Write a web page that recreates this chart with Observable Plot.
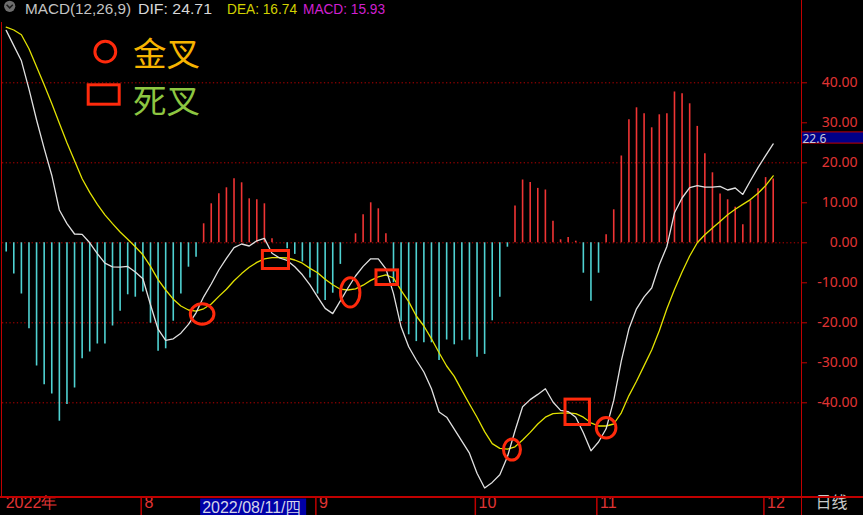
<!DOCTYPE html>
<html><head><meta charset="utf-8">
<script src="https://cdn.jsdelivr.net/npm/d3@7"></script>
<script src="https://cdn.jsdelivr.net/npm/@observablehq/plot@0.6"></script>
<style>
html,body{margin:0;padding:0;background:#000;}
#wrap{position:relative;width:863px;height:515px;background:#000;overflow:hidden;}
#wrap > svg{position:absolute;left:0;top:0;}
.line{position:absolute;background:#c00000;}
</style></head><body><div id="wrap"></div>
<script>
// ---------- data ----------
const monthStart = [18, 41, 62, 78, 100];
const monthLabel = ["8", "9", "10", "11", "12"];
const yearLabel = "2022年";
const cursorDateIndex = 26;
const cursorDateLabel = "2022/08/11/四";
const cursorValue = 26.2;
const cursorValueLabel = "22.6";
const yTicks = [40, 30, 20, 10, 0, -10, -20, -30, -40];
const gridValues = [40, 20, 0, -20, -40];

const macd = [-2.3, -7.8, -12.8, -21.5, -30.8, -35.5, -37.8, -44.6, -40.4, -36.3,
  -29.0, -27.3, -25.3, -25.3, -20.8, -17.1, -13.0, -13.6, -12.3, -20.1,
  -27.1, -26.5, -19.6, -12.8, -6.1, -3.6, 4.75, 9.75, 12.25, 13.75,
  16.0, 15.0, 11.0, 10.75, 9.75, 1.0, 0, -1.5, -2.9, -4.8,
  -8.8, -12.8, -14.4, -12.6, -5.4, 0, 2.25, 7.0, 10.0, 8.5,
  2.25, -10.0, -19.7, -23.0, -24.7, -25.0, -25.0, -29.4, -24.3, -25.5,
  -24.5, -24.3, -28.6, -27.9, -19.5, -13.6, -1.1, 9.2, 15.7, 15.1,
  13.6, 13.2, 5.4, 0.75, 1.3, 0.4, -7.6, -14.6, -7.6, 2.0,
  8.25, 21.7, 30.75, 33.75, 32.25, 28.75, 32.0, 32.25, 37.7, 37.25,
  34.75, 29.1, 22.25, 17.5, 12.2, 10.75, 8.9, 4.5, 10.5, 13.5,
  16.3, 15.93];

const dif = [53.1, 49.3, 45.5, 38.4, 30.7, 23.6, 16.9, 8.2, 4.8, 2.2,
  2.1, 0.0, -2.7, -5.1, -6.0, -6.1, -5.9, -7.3, -9.0, -15.5,
  -21.6, -24.4, -24.0, -22.6, -20.4, -17.5, -13.5, -10.3, -6.8, -3.9,
  -1.2, -0.3, -0.8, 0.5, 1.1, -2.6, -3.8, -4.4, -6.0, -8.0,
  -10.5, -13.5, -16.4, -17.7, -14.5, -11.3, -8.3, -5.9, -4.0, -4.0,
  -6.5, -12.7, -21.0, -26.0, -29.3, -32.3, -36.5, -42.3, -43.6, -46.6,
  -49.6, -52.6, -57.6, -61.3, -59.9, -58.0, -53.5, -47.0, -41.0, -39.2,
  -37.9, -36.5, -39.8, -41.9, -42.2, -43.6, -47.5, -52.0, -49.8, -46.5,
  -39.4, -29.5, -21.5, -16.5, -13.5, -11.3, -5.5, -0.9, 7.5, 11.2,
  13.8, 14.3, 13.9, 13.9, 14.1, 13.2, 13.7, 12.1, 15.5, 18.8,
  21.8, 24.71];

const dea = [53.9, 53.2, 52.0, 48.5, 44.0, 39.5, 34.8, 29.9, 25.0, 20.5,
  16.0, 12.6, 9.6, 7.0, 4.8, 2.7, 0.9, -1.0, -3.0, -5.9,
  -9.2, -11.8, -14.1, -15.8, -16.8, -17.1, -16.5, -15.3, -13.4, -11.6,
  -9.5, -7.7, -6.1, -4.9, -4.0, -3.7, -3.7, -3.8, -4.3, -5.1,
  -6.4, -7.5, -9.1, -10.5, -11.6, -11.8, -11.5, -10.6, -9.4, -8.5,
  -8.0, -8.8, -11.9, -14.7, -18.3, -20.8, -24.0, -27.5, -30.8, -33.4,
  -36.9, -40.3, -43.6, -47.2, -50.2, -51.4, -51.6, -51.0, -49.3, -47.4,
  -45.3, -43.6, -42.7, -42.6, -42.5, -42.7, -43.6, -45.0, -45.8, -45.8,
  -45.3, -42.5, -38.2, -34.6, -30.7, -26.8, -22.0, -16.5, -11.7, -7.3,
  -3.3, 0.0, 2.0, 3.7, 5.3, 7.0, 8.4, 9.6, 10.8, 12.4,
  14.3, 16.74];

// golden crosses (circles) and death crosses (squares): bar index / value
const goldenIndex = [25.8, 45.3, 66.6, 79.0];
const goldenValue = [-17.8, -12.4, -51.7, -46.25];
const deathIndex1 = [33.8, 48.76, 73.65];
const deathIndex2 = [37.24, 51.6, 76.87];
const deathValue1 = [-2.05, -6.9, -39.2];
const deathValue2 = [-6.55, -10.55, -45.55];

const header = [
  {text: "MACD(12,26,9)", color: "#c4c4c4"},
  {text: "DIF: 24.71", color: "#d8d8d8"},
  {text: "DEA: 16.74", color: "#d2d200"},
  {text: "MACD: 15.93", color: "#d020d0"}
];
const legend = [{text: "金叉", color: "#f7b400"}, {text: "死叉", color: "#8dc641"}];

// ---------- build tables ----------
const bars = macd.map((v, i) => ({i, v}));
const difRows = dif.map((v, i) => ({i, v}));
const deaRows = dea.map((v, i) => ({i, v}));
const golden = goldenIndex.map((i, k) => ({i, v: goldenValue[k]}));
const death = deathIndex1.map((i, k) => ({i1: i, i2: deathIndex2[k], v1: deathValue1[k], v2: deathValue2[k]}));
const months = monthStart.map((i, k) => ({i, label: monthLabel[k]}));

const RED = "#f03434", CYAN = "#4fd2d2", MARK = "#ff2a0c", AXIS = "#e03434";

const chart = Plot.plot({
  width: 863, height: 515,
  marginLeft: 2, marginRight: 62, marginTop: 20, marginBottom: 18,
  style: {background: "transparent", color: AXIS, fontFamily: "Noto Sans", overflow: "visible"},
  x: {type: "linear", domain: [0, 101], range: [5.7, 772.7], axis: null},
  y: {type: "linear", domain: [-40, 40], range: [402.3, 82.3], axis: null},
  marks: [
    Plot.ruleY(gridValues, {y: d => d, stroke: "#b80000", strokeDasharray: "1.3,2.4", strokeWidth: 1}),
    Plot.ruleX(bars, {x: "i", y1: 0, y2: "v", stroke: d => d.v >= 0 ? RED : CYAN, strokeWidth: 1.6}),
    Plot.line(deaRows, {x: "i", y: "v", stroke: "#e2e200", strokeWidth: 1.3}),
    Plot.line(difRows, {x: "i", y: "v", stroke: "#e0e0e0", strokeWidth: 1.3}),
    Plot.dot(golden, {x: "i", y: "v", r: 10, fill: "none", stroke: MARK, strokeWidth: 3}),
    Plot.rect(death, {x1: "i1", x2: "i2", y1: "v1", y2: "v2", fill: "none", stroke: MARK, strokeWidth: 3}),
    Plot.axisY(yTicks, {anchor: "right", tickSize: 5, fill: "none", stroke: "#c00000", label: null}),
    Plot.text(yTicks, {y: d => d, text: d => d.toFixed(2), frameAnchor: "right", dx: 56, textAnchor: "end", fill: AXIS, fontSize: 14}),
    Plot.axisX(monthStart, {anchor: "bottom", tickSize: 18, fill: "none", stroke: "#c00000", strokeWidth: 1.5, dx: -1.7, label: null}),
    Plot.text(months, {x: "i", text: "label", frameAnchor: "bottom", dy: 10, dx: 1.5, textAnchor: "start", fill: AXIS, fontSize: 16, fontFamily: "Liberation Sans"}),
    Plot.text([yearLabel], {x: () => 0, text: d => d, frameAnchor: "bottom", dy: 10, dx: -0.5, textAnchor: "start", fill: AXIS, fontSize: 16, fontFamily: "Liberation Sans"}),
    Plot.text(["日线"], {text: d => d, frameAnchor: "bottom-right", dx: 14, dy: 10, textAnchor: "start", fill: "#c8c8c8", fontSize: 16, fontFamily: "Noto Sans CJK SC"})
  ]
});

// make the cross circles elliptical as drawn in the reference
const ellipseScale = [[1.18, 1.02], [0.97, 1.47], [0.85, 1.05], [0.98, 1.02]];
d3.select(chart).selectAll('g[aria-label="dot"] circle').each(function (d, k) {
  const c = d3.select(this);
  const cx = +c.attr("cx"), cy = +c.attr("cy");
  const [sx, sy] = ellipseScale[k] || [1, 1];
  c.attr("transform", `translate(${cx},${cy}) scale(${sx},${sy}) translate(${-cx},${-cy})`)
   .attr("vector-effect", "non-scaling-stroke");
});

const wrap = document.getElementById("wrap");
wrap.appendChild(chart);

// frame lines
function addLine(l, t, w, h) { const d = document.createElement("div"); d.className = "line"; Object.assign(d.style, {left: l + "px", top: t + "px", width: w + "px", height: h + "px"}); wrap.appendChild(d); }
addLine(800.5, 0, 1.6, 515);
addLine(0, 496.3, 863, 1.6);
addLine(0.8, 22, 1.4, 475);

// overlay: header, legend, cursor boxes
const xs = chart.scale("x"), ys = chart.scale("y");
const ov = d3.create("svg").attr("width", 863).attr("height", 515).style("position", "absolute").style("left", 0).style("top", 0);

// header
ov.append("circle").attr("cx", 9.7).attr("cy", 6.3).attr("r", 5.6).attr("fill", "#6e6e6e");
ov.append("path").attr("d", "M6.6,4.8 L9.7,7.9 L12.8,4.8").attr("fill", "none").attr("stroke", "#1a1a1a").attr("stroke-width", 1.5);
const hx = [25, 138, 227, 303], hw = [106, 74, 70, 82];
header.forEach((h, k) => {
  const t = ov.append("text").attr("x", hx[k]).attr("y", 14).attr("fill", h.color)
    .attr("font-family", "Liberation Sans").attr("font-size", 15).text(h.text);
  if (hw[k]) t.attr("textLength", hw[k]).attr("lengthAdjust", "spacingAndGlyphs");
});

// legend
ov.append("circle").attr("cx", 105.3).attr("cy", 51.7).attr("r", 10.4).attr("fill", "none").attr("stroke", MARK).attr("stroke-width", 3);
ov.append("rect").attr("x", 88.2).attr("y", 84.8).attr("width", 31).attr("height", 19.4).attr("fill", "none").attr("stroke", MARK).attr("stroke-width", 3);
legend.forEach((g, k) => {
  ov.append("text").attr("x", 133).attr("y", k ? 98 : 51.5).attr("dominant-baseline", "central")
    .attr("fill", g.color).attr("font-family", "Noto Sans CJK SC").attr("font-size", 33.5).text(g.text);
});

// cursor date box on the time axis
const bx = xs.apply(cursorDateIndex) - 3;
ov.append("rect").attr("x", bx).attr("y", 498.5).attr("width", 106).attr("height", 16.5).attr("fill", "#0000a8");
ov.append("text").attr("x", bx + 2).attr("y", 507).attr("dominant-baseline", "central").attr("fill", "#d4d4e8")
  .attr("font-family", "Liberation Sans").attr("font-size", 16).text(cursorDateLabel);

// cursor value box on the value axis
const by = ys.apply(cursorValue);
ov.append("rect").attr("x", 801.5).attr("y", by - 5.6).attr("width", 62).attr("height", 11.2).attr("fill", "#000088").attr("stroke", "#c00000").attr("stroke-width", 1);
ov.append("text").attr("x", 802.5).attr("y", by + 0.5).attr("dominant-baseline", "central").attr("fill", "#c8c8d8")
  .attr("font-family", "Noto Sans").attr("font-size", 12).text(cursorValueLabel);

wrap.appendChild(ov.node());
</script></body></html>
